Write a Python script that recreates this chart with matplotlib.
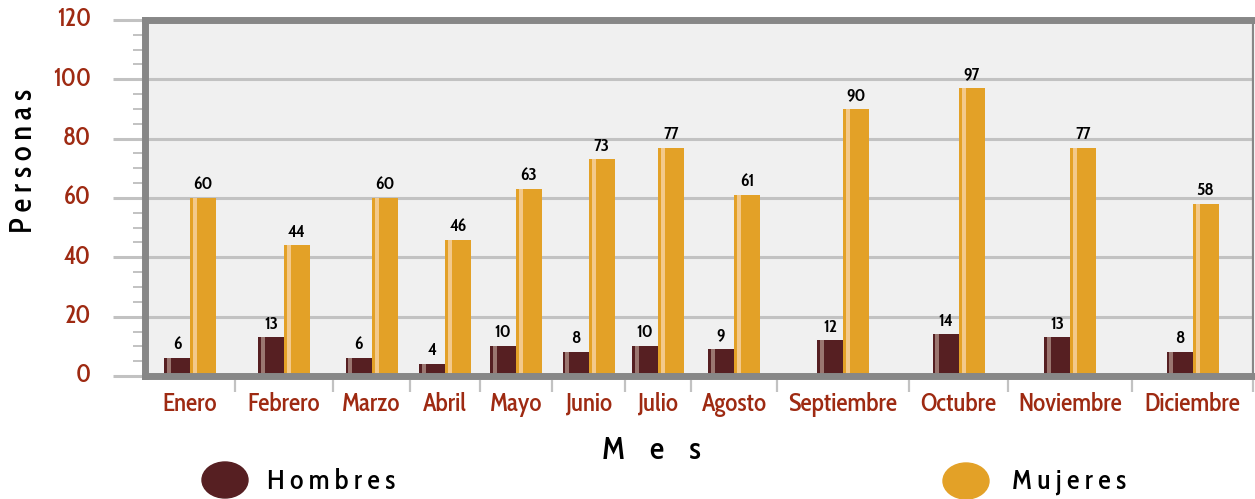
import matplotlib
matplotlib.use("Agg")
import matplotlib.pyplot as plt
from matplotlib.patches import Ellipse

plt.rcParams['font.family'] = ['Cabin Condensed', 'DejaVu Sans']

meses = ['Enero', 'Febrero', 'Marzo', 'Abril', 'Mayo', 'Junio', 'Julio',
         'Agosto', 'Septiembre', 'Octubre', 'Noviembre', 'Diciembre']
hombres = [6, 13, 6, 4, 10, 8, 10, 9, 12, 14, 13, 8]
mujeres = [60, 44, 60, 46, 63, 73, 77, 61, 90, 97, 77, 58]

# ancho de cada columna de mes (px), las etiquetas largas ocupan más
slot_w = [90, 98, 77, 70, 72, 73, 66, 86, 132, 99, 124, 121]

C_HOM = '#561f22'
C_HOM_L = '#9b7670'
C_MUJ = '#e3a127'
C_MUJ_L = '#f3c98b'
C_TXT = '#9e2a12'
C_GRID = '#c2c2c2'
C_FRAME = '#878787'

W, H = 1255, 499
fig = plt.figure(figsize=(W / 100, H / 100), dpi=100)
ax = fig.add_axes([145 / W, (H - 376) / H, sum(slot_w) / W, 356 / H])
ax.set_facecolor('#f0f0f0')

edges = [0]
for w in slot_w:
    edges.append(edges[-1] + w)
centers = [(edges[i] + edges[i + 1]) / 2 for i in range(len(slot_w))]

ax.set_xlim(0, edges[-1])
ax.set_ylim(0, 120)
ax.set_xticks([])
ax.set_yticks([])

# rejilla principal que sale por la izquierda del marco
for v in range(0, 121, 20):
    ax.plot([-32, edges[-1]], [v, v], color=C_GRID, lw=2.2, clip_on=False, zorder=1,
            solid_capstyle='butt')
    ax.text(-54, v, str(v), color=C_TXT, fontsize=18, fontweight='medium',
            ha='right', va='center')
for v in range(5, 120, 5):
    if v % 20:
        ax.plot([-12, 0], [v, v], color=C_GRID, lw=1.4, clip_on=False, zorder=1,
                solid_capstyle='butt')

# separadores bajo el eje
for e in edges[1:]:
    ax.plot([e, e], [-1.2, -5.3], color=C_GRID, lw=1.6, clip_on=False,
            solid_capstyle='butt')

bw = 26
xh = [c - bw / 2 for c in centers]
xm = [c + bw / 2 for c in centers]
ax.bar(xh, hombres, width=bw, color=C_HOM, zorder=3)
ax.bar(xm, mujeres, width=bw, color=C_MUJ, zorder=3)
# brillo vertical de cada barra
ax.bar([x - bw / 2 + 4.5 for x in xh], hombres, width=4, color=C_HOM_L, zorder=4)
ax.bar([x - bw / 2 + 5 for x in xm], mujeres, width=4, color=C_MUJ_L, zorder=4)

for x, v in zip(xh, hombres):
    ax.annotate(str(v), (x, v), xytext=(0, 3.5), textcoords='offset points',
                ha='center', va='bottom', fontsize=13, fontweight='semibold',
                color='black')
for x, v in zip(xm, mujeres):
    ax.annotate(str(v), (x, v), xytext=(0, 3.5), textcoords='offset points',
                ha='center', va='bottom', fontsize=13, fontweight='semibold',
                color='black')

for c, m in zip(centers, meses):
    ax.text(c, -9.6, m, color=C_TXT, fontsize=18, fontweight='medium',
            ha='center', va='center')

for s in ['left', 'top', 'bottom']:
    ax.spines[s].set_color(C_FRAME)
    ax.spines[s].set_linewidth(5)
    ax.spines[s].set_zorder(5)
ax.spines['right'].set_color(C_FRAME)
ax.spines['right'].set_linewidth(1.6)

fig.text(24 / W, 1 - 161 / H, 'P e r s o n a s', rotation=90, fontsize=22,
         fontweight='medium', ha='center', va='center', color='black')
fig.text(651 / W, 1 - 451 / H, 'M    e    s', fontsize=23, fontweight='medium',
         ha='center', va='center', color='black')

fig.patches.append(Ellipse((225 / W, 1 - 480 / H), 46 / W, 36 / H,
                           transform=fig.transFigure, color=C_HOM))
fig.patches.append(Ellipse((966 / W, 1 - 481 / H), 46 / W, 36 / H,
                           transform=fig.transFigure, color=C_MUJ))
fig.text(267 / W, 1 - 482 / H, 'H o m b r e s', fontsize=20, fontweight='medium',
         ha='left', va='center', color='black')
fig.text(1012 / W, 1 - 482 / H, 'M u j e r e s', fontsize=20, fontweight='medium',
         ha='left', va='center', color='black')

fig.savefig('out.png', dpi=100)
